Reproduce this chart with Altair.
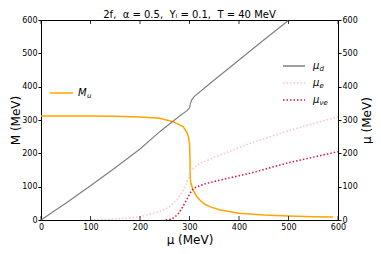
import altair as alt
import pandas as pd

# ---- data ----
mu_d_x = [0, 50, 100, 150, 200, 240, 250, 280, 295, 300, 302, 305, 310, 345, 400, 450, 501]
mu_d_y = [0, 50, 103, 157, 213, 265, 277, 312, 328, 336, 350, 362, 371, 414, 480, 540, 600]

mu_u_x = [0, 100, 150, 200, 240, 267, 287, 295, 298, 300, 301, 301.5, 303, 307, 314, 321, 330, 341, 362, 400, 450, 500, 550, 590]
mass_u = [312, 312, 311, 309, 305, 295, 280, 262, 248, 230, 180, 125, 110, 90, 72, 60, 48, 40, 30, 20, 15, 12, 10, 9]

mu_e_x = [100, 150, 200, 240, 260, 274, 285, 294, 299, 301, 305, 321, 362, 422, 500, 600]
mu_e_y = [0, 3, 10, 25, 40, 60, 82, 110, 132, 145, 152, 170, 195, 230, 268, 310]

mu_nu_x = [252, 262, 270, 278, 285, 292, 297, 301, 308, 330, 362, 422, 500, 600]
mu_nu_y = [0, 2, 8, 20, 36, 55, 68, 80, 95, 108, 120, 140, 172, 205]

ticks = [0, 100, 200, 300, 400, 500, 600]

FONT = "DejaVu Sans"
NB = "\u00a0"
xs = alt.Scale(domain=[0, 600], nice=False, zero=False)
ys = alt.Scale(domain=[0, 600], nice=False, zero=False)

x_axis = alt.Axis(values=ticks, title="μ (MeV)", ticks=False, domain=False, grid=False,
                  labelFontSize=8, labelPadding=3, titleFontSize=12, titlePadding=3,
                  labelFont=FONT, titleFont=FONT, labelColor="black", titleColor="black",
                  titleFontWeight="normal", labelFlush=False)

df_u = pd.DataFrame({"mu": mu_u_x, "v": mass_u})
df_d = pd.DataFrame({"mu": mu_d_x, "v": mu_d_y})
df_e = pd.DataFrame({"mu": mu_e_x, "v": mu_e_y})
df_nu = pd.DataFrame({"mu": mu_nu_x, "v": mu_nu_y})
df_t = pd.DataFrame({"t": ticks})
one = pd.DataFrame({"k": [0]})

left = alt.Chart(df_u).mark_line(color="#FFA500", strokeWidth=1.5, clip=True).encode(
    x=alt.X("mu:Q", scale=xs, axis=x_axis),
    y=alt.Y("v:Q", scale=ys, axis=alt.Axis(values=ticks, title="M (MeV)", orient="left", grid=False,
                                           domain=False, tickSize=3, tickColor="black", labelPadding=1,
                                           labelFontSize=8, titleFontSize=12, titlePadding=-1,
                                           labelFont=FONT, titleFont=FONT, labelColor="black",
                                           titleColor="black", titleFontWeight="normal")),
    order="mu:Q",
)

right_axis = alt.Axis(values=ticks, title="μ (MeV)", orient="right", grid=False, domain=False,
                      tickSize=3, tickColor="black", labelPadding=1, labelFontSize=8,
                      titleFontSize=12, titlePadding=16, titleAngle=270,
                      labelFont=FONT, titleFont=FONT, labelColor="black", titleColor="black",
                      titleFontWeight="normal")

gray = alt.Chart(df_d).mark_line(color="gray", strokeWidth=1.2, clip=True).encode(
    x=alt.X("mu:Q", scale=xs, axis=x_axis),
    y=alt.Y("v:Q", scale=ys, axis=right_axis),
    order="mu:Q",
)
pink = alt.Chart(df_e).mark_line(color="pink", strokeWidth=1.5, strokeDash=[1.5, 2], clip=True).encode(
    x=alt.X("mu:Q", scale=xs, axis=x_axis),
    y=alt.Y("v:Q", scale=ys, axis=None),
    order="mu:Q",
)
crim = alt.Chart(df_nu).mark_line(color="crimson", strokeWidth=1.5, strokeDash=[1.5, 2], clip=True).encode(
    x=alt.X("mu:Q", scale=xs, axis=x_axis),
    y=alt.Y("v:Q", scale=ys, axis=None),
    order="mu:Q",
)

H = 200
W = 297
tick_bottom = alt.Chart(df_t).mark_rule(color="black", strokeWidth=0.8).encode(
    x=alt.X("t:Q", scale=xs, axis=x_axis), y=alt.value(H), y2=alt.value(H - 4))
tick_top = alt.Chart(df_t).mark_rule(color="black", strokeWidth=0.8).encode(
    x=alt.X("t:Q", scale=xs, axis=x_axis), y=alt.value(0), y2=alt.value(4))

# manual legends
def leg_line(x1, x2, y, color, dash=None):
    kw = dict(color=color, strokeWidth=1.5)
    if dash:
        kw["strokeDash"] = dash
    return alt.Chart(one).mark_rule(**kw).encode(x=alt.value(x1), x2=alt.value(x2), y=alt.value(y))

def leg_text(x, y, main, sub):
    a = alt.Chart(one).mark_text(text=main, font=FONT, fontSize=10, fontStyle="italic",
                                 align="left", baseline="middle", color="black").encode(
        x=alt.value(x), y=alt.value(y))
    b = alt.Chart(one).mark_text(text=sub, font=FONT, fontSize=7, fontStyle="italic",
                                 align="left", baseline="middle", color="black").encode(
        x=alt.value(x + (9 if main == "M" else 6.5)), y=alt.value(y + 3))
    return a + b

legends = (
    leg_line(9, 32, 73, "#FFA500") + leg_text(37, 73, "M", "u")
    + leg_line(242, 264, 46, "gray") + leg_text(272, 46, "μ", "d")
    + leg_line(242, 264, 63, "pink", [1.5, 2]) + leg_text(272, 63, "μ", "e")
    + leg_line(242, 264, 80, "crimson", [1.5, 2]) + leg_text(272, 80, "μ", "νe")
)

title_text = f"2f,{NB}{NB}α{NB}={NB}0.5,{NB}{NB}Yₗ{NB}={NB}0.1,{NB}{NB}T{NB}={NB}40{NB}MeV"

chart = alt.layer(left, gray, pink, crim, tick_bottom, tick_top, legends).resolve_scale(
    y="independent"
).properties(
    width=W, height=H,
    title=alt.TitleParams(title_text, font=FONT, fontSize=10,
                          fontWeight="normal", color="black", anchor="middle", offset=0, dy=4),
    autosize=alt.AutoSizeParams(type="none"),
    padding={"left": 33, "top": 12, "right": 35, "bottom": 26},
).configure_view(stroke="black", strokeWidth=1)

chart.save("out.html", embed_options={"renderer": "svg", "actions": False})
